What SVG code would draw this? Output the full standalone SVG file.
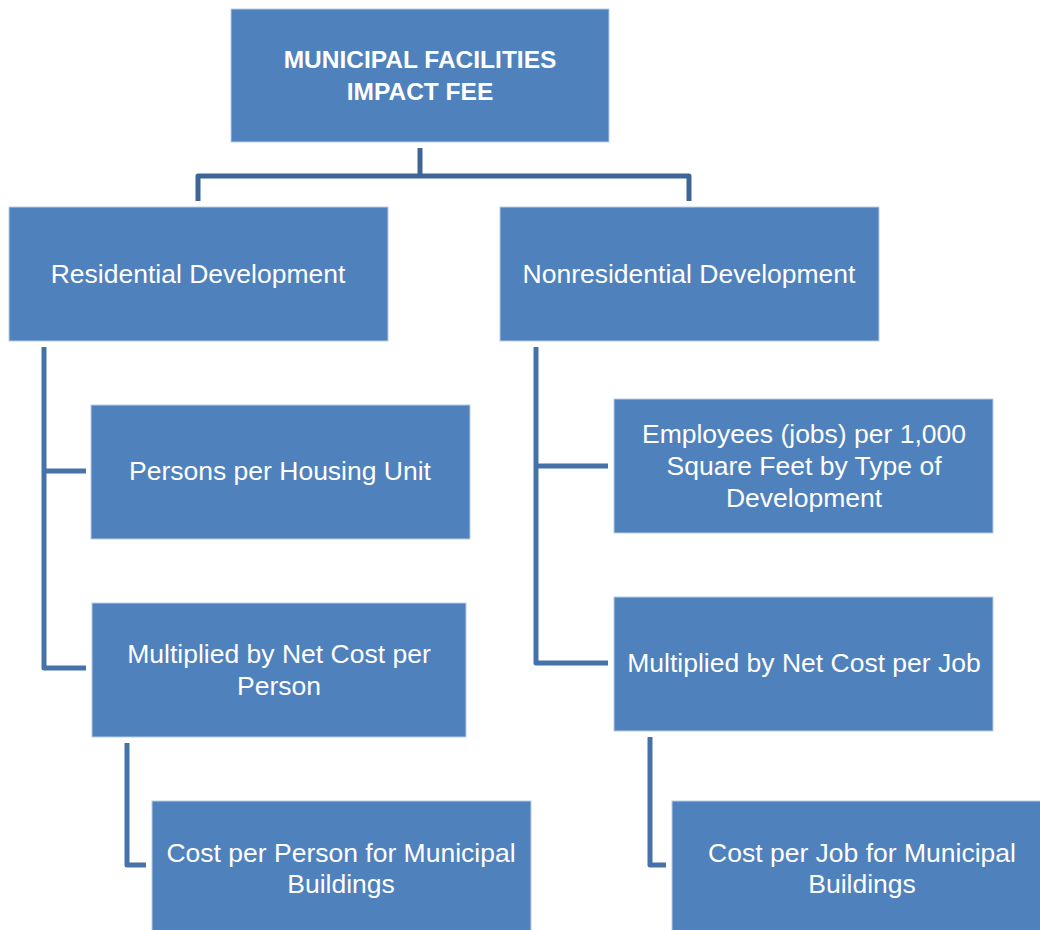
<svg xmlns="http://www.w3.org/2000/svg" width="1040" height="930" viewBox="0 0 1040 930">
<style>
.box{fill:#4F81BD;stroke:#B9CDE5;stroke-width:1}
.t{font-family:"Liberation Sans",Arial,sans-serif;font-size:26.5px;fill:#FFFFFF;text-anchor:middle}
.tb{font-family:"Liberation Sans",Arial,sans-serif;font-size:24.5px;font-weight:bold;fill:#FFFFFF;text-anchor:middle}
.c{fill:none;stroke:#4672AA;stroke-width:5;stroke-linejoin:round}
.c0{fill:none;stroke:#3D6596;stroke-width:5;stroke-linejoin:round}
</style>
<rect width="1040" height="930" fill="#FFFFFF"/>
<g id="connectors">
<path class="c0" d="M420,148 V176"/>
<path class="c0" d="M198,201 V176 H689 V201"/>
<path class="c" d="M44,347 V668 H86 M44,471 H86"/>
<path class="c" d="M536,347 V663 H608 M536,466 H608"/>
<path class="c" d="M127,743 V865 H146"/>
<path class="c" d="M650,737 V865 H666"/>
</g>
<g id="n-top">
<rect class="box" x="231" y="9" width="378" height="133"/>
<text class="tb" x="420" y="68">MUNICIPAL FACILITIES</text>
<text class="tb" x="420" y="100">IMPACT FEE</text>
</g>
<g id="n-res">
<rect class="box" x="9" y="207" width="379" height="134"/>
<text class="t" x="198" y="283">Residential Development</text>
</g>
<g id="n-nonres">
<rect class="box" x="500" y="207" width="379" height="134"/>
<text class="t" x="689" y="283">Nonresidential Development</text>
</g>
<g id="n-persons">
<rect class="box" x="91" y="405" width="379" height="134"/>
<text class="t" x="280" y="480">Persons per Housing Unit</text>
</g>
<g id="n-mult-person">
<rect class="box" x="92" y="603" width="374" height="134"/>
<text class="t" x="279" y="663">Multiplied by Net Cost per</text>
<text class="t" x="279" y="695">Person</text>
</g>
<g id="n-employees">
<rect class="box" x="614" y="399" width="379" height="134"/>
<text class="t" x="804" y="443">Employees (jobs) per 1,000</text>
<text class="t" x="804" y="475">Square Feet by Type of</text>
<text class="t" x="804" y="507">Development</text>
</g>
<g id="n-mult-job">
<rect class="box" x="614" y="597" width="379" height="134"/>
<text class="t" x="804" y="672">Multiplied by Net Cost per Job</text>
</g>
<g id="n-cost-person">
<rect class="box" x="152" y="801" width="379" height="134"/>
<text class="t" x="341" y="862">Cost per Person for Municipal</text>
<text class="t" x="341" y="893">Buildings</text>
</g>
<g id="n-cost-job">
<rect class="box" x="672" y="801" width="379" height="134"/>
<text class="t" x="862" y="862">Cost per Job for Municipal</text>
<text class="t" x="862" y="893">Buildings</text>
</g>
</svg>
